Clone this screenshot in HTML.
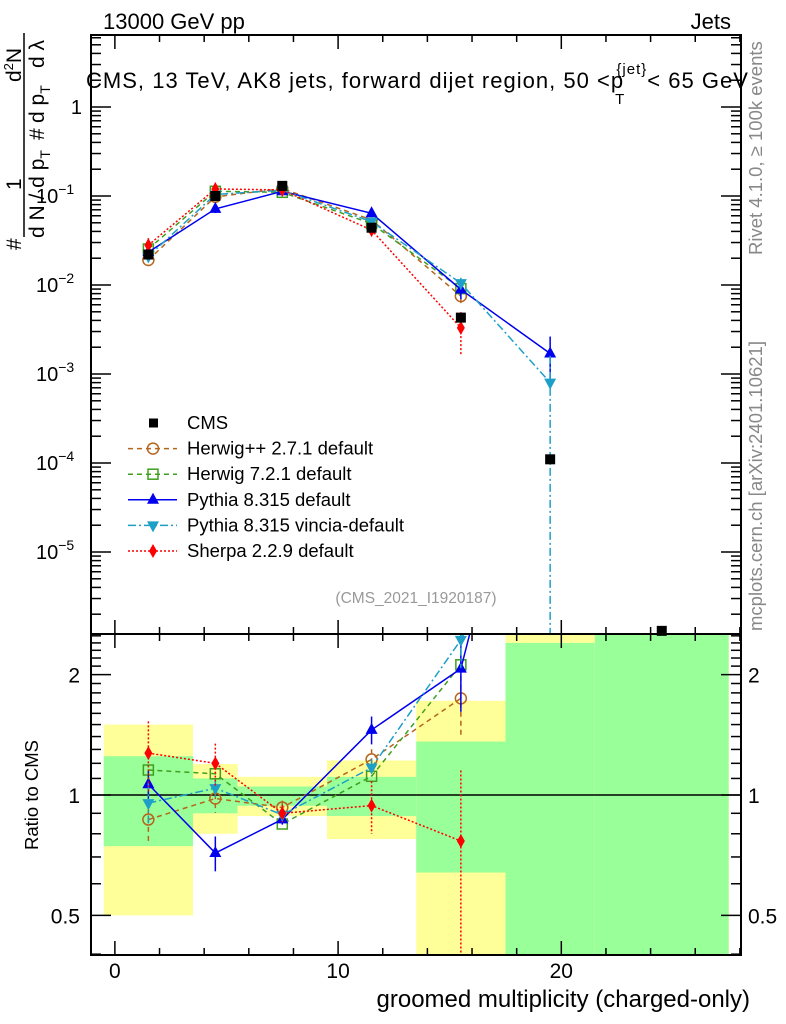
<!DOCTYPE html>
<html><head><meta charset="utf-8"><style>
html,body{margin:0;padding:0;background:#fff;overflow:hidden;}
svg{display:block;font-family:"Liberation Sans",sans-serif;}
</style></head><body>
<svg id="chart" width="786" height="1024" viewBox="0 0 786 1024" xmlns="http://www.w3.org/2000/svg">
<g id="bands"></g>
<g id="axes"></g>
<g id="series"></g>
<rect x="91" y="35" width="650" height="599" fill="none" stroke="#000" stroke-width="2"/>
<rect x="91" y="634" width="650" height="321" fill="none" stroke="#000" stroke-width="2"/>
<text x="103" y="29" font-size="22">13000 GeV pp</text>
<text x="731" y="29" font-size="22" text-anchor="end">Jets</text>
<text x="86" y="88" font-size="22" textLength="662">CMS, 13 TeV, AK8 jets, forward dijet region, 50 &lt;p<tspan font-size="15" dx="-9" dy="16">T</tspan><tspan font-size="15" dx="-9" dy="-30">{jet}</tspan><tspan dy="14">&lt; 65 GeV</tspan></text>
<text transform="translate(762,255) rotate(-90)" font-size="18.5" fill="#888">Rivet 4.1.0, ≥ 100k events</text>
<text transform="translate(762,631) rotate(-90)" font-size="18.5" fill="#888">mcplots.cern.ch [arXiv:2401.10621]</text>
<text x="416" y="603" font-size="15.5" fill="#999" text-anchor="middle">(CMS_2021_I1920187)</text>
<g font-size="21">
<text transform="translate(21,250) rotate(-90)">#</text>
<text transform="translate(21,190) rotate(-90)">1</text>
<text transform="translate(21,82) rotate(-90)">d<tspan font-size="13" dy="-8">2</tspan><tspan dy="8">N</tspan></text>
<line x1="24" y1="237" x2="24" y2="33" stroke="#000" stroke-width="1.5"/>
<text transform="translate(44,238) rotate(-90)">d N / d p<tspan font-size="14" dy="6">T</tspan></text>
<text transform="translate(44,140) rotate(-90)">#</text>
<text transform="translate(44,123) rotate(-90)">d p<tspan font-size="14" dy="6">T</tspan></text>
<text transform="translate(44,68) rotate(-90)">d λ</text>
</g>
<text transform="translate(38,795) rotate(-90)" font-size="18.5" text-anchor="middle">Ratio to CMS</text>
<text x="750" y="1007" font-size="24" text-anchor="end">groomed multiplicity (charged-only)</text>
<g id="legend"></g>
</svg>
<script>
const binCenters = [1.5, 4.5, 7.5, 11.5, 15.5, 19.5, 24.5];
const binEdges = [-0.5, 3.5, 5.5, 9.5, 13.5, 17.5, 21.5, 27.5];
const cmsValues = [0.022, 0.1, 0.13, 0.044, 0.0043, 0.00011, 0.0000013];
const totUp = [1.5, 1.195, 1.11, 1.22, 1.72, 50, 3];
const totDown = [0.5, 0.8, 0.886, 0.776, 0.1, 0.01, 0.01];
const statUp = [1.25, 1.10, 1.05, 1.11, 1.36, 2.4, 3];
const statDown = [0.745, 0.90, 0.94, 0.886, 0.64, 0.01, 0.01];
const herwigppValues = [0.0191, 0.098, 0.121, 0.054, 0.0075];
const herwig7Values = [0.0254, 0.113, 0.110, 0.049, 0.0091];
const pythiaValues = [0.0234, 0.0716, 0.113, 0.064, 0.0089, 0.0017];
const vinciaValues = [0.021, 0.104, 0.116, 0.0515, 0.0105, 0.0008];
const sherpaValues = [0.028, 0.12, 0.117, 0.0414, 0.0033];
const pythiaRelErr = [0.08, 0.1, 0.03, 0.08, 0.22, 0.55];
const sherpaRelErr = [0.2, 0.12, 0.05, 0.15, 0.5];
const herwigppRelErr = [0.12, 0.08, 0.04, 0.06, 0.2];
const vinciaRelErr = [0.12, 0.05, 0.04, 0.05, 0.15, 1];
const xTicks = [0, 10, 20];
const mainYTicks = [0, -1, -2, -3, -4, -5];
const ratioTicks = [0.5, 1, 2];

const NS = 'http://www.w3.org/2000/svg';
const X0 = 91, X1 = 741, MT = 35, MB = 634, RB = 955;
const xMin = -1.07, xMax = 28.05;
function xs(v){ return X0 + (v - xMin) / (xMax - xMin) * (X1 - X0); }
function ys(v){ return 107 - 89 * Math.log10(v); }
function yr(v){ return 795 - 400 * Math.log10(v); }
function clampMain(y){ return Math.max(MT, Math.min(MB, y)); }
function clampR(y){ return Math.max(MB, Math.min(RB, y)); }
function mk(tag, attrs, parent){ const e = document.createElementNS(NS, tag); for (const k in attrs) e.setAttribute(k, attrs[k]); parent.appendChild(e); return e; }

const bands = document.getElementById('bands');
const axes = document.getElementById('axes');
const series = document.getElementById('series');

for (let i = 0; i < binEdges.length - 1; i++) {
  const xa = xs(binEdges[i]), xb = xs(binEdges[i+1]);
  const ty1 = clampR(yr(totUp[i])), ty2 = clampR(yr(totDown[i]));
  const y = mk('rect', {x: xa, y: ty1, width: xb - xa, height: ty2 - ty1, fill: '#ffff99'}, bands);
  
  
  const sy1 = clampR(yr(statUp[i])), sy2 = clampR(yr(statDown[i]));
  const g = mk('rect', {x: xa, y: sy1, width: xb - xa, height: sy2 - sy1, fill: '#99ff99'}, bands);
  
  
}
const one = mk('line', {x1: X0, x2: X1, y1: yr(1), y2: yr(1), stroke: '#000', 'stroke-width': 1.5}, axes);



for (let v = -1; v <= 28; v++) {
  const major = v % 10 === 0, mid = v % 2 === 0;
  if (!mid && !major) continue;
  const L = major ? 14 : 7, x = xs(v);
  mk('line', {x1: x, x2: x, y1: MT, y2: MT + L, stroke: '#000', 'stroke-width': 1.5}, axes);
  mk('line', {x1: x, x2: x, y1: MB, y2: MB - L, stroke: '#000', 'stroke-width': 1.5}, axes);
  mk('line', {x1: x, x2: x, y1: MB, y2: MB + L, stroke: '#000', 'stroke-width': 1.5}, axes);
  mk('line', {x1: x, x2: x, y1: RB, y2: RB - L, stroke: '#000', 'stroke-width': 1.5}, axes);
}
xTicks.forEach(v => {
  const t = mk('text', {x: xs(v), y: 978, 'font-size': 21, 'text-anchor': 'middle'}, axes);
  t.textContent = String(v);
  
  
});
for (let d = -6; d <= 0; d++) {
  for (let m = 1; m <= 9; m++) {
    const v = m * Math.pow(10, d), y = ys(v);
    if (y < MT || y > MB) continue;
    const L = m === 1 ? 20 : 10;
    mk('line', {x1: X0, x2: X0 + L, y1: y, y2: y, stroke: '#000', 'stroke-width': 1.5}, axes);
    mk('line', {x1: X1, x2: X1 - L, y1: y, y2: y, stroke: '#000', 'stroke-width': 1.5}, axes);
  }
}
mainYTicks.forEach(d => {
  const y = ys(Math.pow(10, d));
  const t = mk('text', {x: 82, y: y + 7, 'font-size': 20, 'text-anchor': 'end'}, axes);
  if (d === 0) t.textContent = '1';
  else { t.textContent = '10'; const s = mk('tspan', {'font-size': 14, dy: -9}, t); s.textContent = '\u2212' + (-d); t.setAttribute('x', 36); t.setAttribute('text-anchor', 'start'); }
  
  
});
[0.4,0.5,0.6,0.7,0.8,0.9,1,1.1,1.2,1.3,1.4,1.5,1.6,1.7,1.8,1.9,2,2.1,2.2,2.3,2.4,2.5].forEach(v => {
  const y = yr(v); if (y < MB || y > RB) return;
  const L = (v === 0.5 || v === 1 || v === 2) ? 20 : 10;
  mk('line', {x1: X0, x2: X0 + L, y1: y, y2: y, stroke: '#000', 'stroke-width': 1.5}, axes);
  mk('line', {x1: X1, x2: X1 - L, y1: y, y2: y, stroke: '#000', 'stroke-width': 1.5}, axes);
});
ratioTicks.forEach(v => {
  const y = yr(v);
  const a = mk('text', {x: 80, y: y + 8, 'font-size': 21, 'text-anchor': 'end'}, axes);
  a.textContent = String(v);
  
  
  const b = mk('text', {x: 748, y: y + 8, 'font-size': 21}, axes);
  b.textContent = String(v);
  
  
});

function marker(type, color, x, y, parent){
  let e;
  if (type === 'square') e = mk('rect', {x: x-5, y: y-5, width: 10, height: 10, fill: color}, parent);
  else if (type === 'circle') e = mk('circle', {cx: x, cy: y, r: 5.5, fill: 'none', stroke: color, 'stroke-width': 1.5}, parent);
  else if (type === 'osquare') e = mk('rect', {x: x-5, y: y-5, width: 10, height: 10, fill: 'none', stroke: color, 'stroke-width': 1.5}, parent);
  else if (type === 'tri') e = mk('polygon', {points: `${x},${y-7} ${x-6},${y+4} ${x+6},${y+4}`, fill: color}, parent);
  else if (type === 'itri') e = mk('polygon', {points: `${x},${y+7} ${x-6},${y-4} ${x+6},${y-4}`, fill: color}, parent);
  else e = mk('polygon', {points: `${x},${y-7} ${x-4},${y} ${x},${y+7} ${x+4},${y}`, fill: color}, parent);
  return e;
}

const models = [
  {name: 'Herwig++ 2.7.1 default', vals: herwigppValues, err: herwigppRelErr, color: '#b5651d', dash: '5,4', m: 'circle', key: 'herwigpp'},
  {name: 'Herwig 7.2.1 default', vals: herwig7Values, err: null, color: '#3f9f1f', dash: '5,4', m: 'osquare', key: 'herwig7'},
  {name: 'Pythia 8.315 default', vals: pythiaValues, err: pythiaRelErr, color: '#0000ee', dash: '', m: 'tri', key: 'pythia'},
  {name: 'Pythia 8.315 vincia-default', vals: vinciaValues, err: vinciaRelErr, color: '#1e9fc8', dash: '8,3,2,3', m: 'itri', key: 'vincia'},
  {name: 'Sherpa 2.2.9 default', vals: sherpaValues, err: sherpaRelErr, color: '#ff0000', dash: '2,2', m: 'diamond', key: 'sherpa'}
];

const defs = mk('defs', {}, document.getElementById('chart'));
const c1 = mk('clipPath', {id: 'clipMain'}, defs); mk('rect', {x: X0, y: MT, width: X1 - X0, height: MB - MT}, c1);
const c2 = mk('clipPath', {id: 'clipRatio'}, defs); mk('rect', {x: X0, y: MB, width: X1 - X0, height: RB - MB}, c2);
const gMain = mk('g', {'clip-path': 'url(#clipMain)'}, series);
const gRatio = mk('g', {'clip-path': 'url(#clipRatio)'}, series);

models.forEach(md => {
  const pts = md.vals.map((v, i) => [xs(binCenters[i]), ys(v)]);
  const line = mk('polyline', {points: pts.map(p => p.join(',')).join(' '), fill: 'none', stroke: md.color, 'stroke-width': 1.5, 'stroke-dasharray': md.dash}, gMain);
  
  
  const rpts = md.vals.map((v, i) => [xs(binCenters[i]), yr(v / cmsValues[i])]);
  const rl = mk('polyline', {points: rpts.map(p => p.join(',')).join(' '), fill: 'none', stroke: md.color, 'stroke-width': 1.5, 'stroke-dasharray': md.dash}, gRatio);
  
  
  md.vals.forEach((v, i) => {
    const x = xs(binCenters[i]);
    if (md.err) {
      const e = md.err[i];
      mk('line', {x1: x, x2: x, y1: ys(v * (1 + e)), y2: clampMain(ys(v * Math.max(0.0001, 1 - e))), stroke: md.color, 'stroke-width': 1.5, 'stroke-dasharray': md.dash}, gMain);
      const r = v / cmsValues[i];
      if (r < 3) mk('line', {x1: x, x2: x, y1: yr(r * (1 + e)), y2: yr(r * Math.max(0.0001, 1 - e)), stroke: md.color, 'stroke-width': 1.5, 'stroke-dasharray': md.dash}, gRatio);
    }
    const p = marker(md.m, md.color, x, ys(v), gMain);
    
    
    const q = marker(md.m, md.color, x, yr(v / cmsValues[i]), gRatio);
    
    
  });
});
cmsValues.forEach((v, i) => {
  const p = marker('square', '#000', xs(binCenters[i]), Math.min(ys(v), MB - 2), series);
  
  
});

const leg = document.getElementById('legend');
const lrows = [{name: 'CMS', m: 'square', color: '#000', dash: null, key: 'cms'}].concat(models);
lrows.forEach((r, i) => {
  const y = 423 + i * 25.6;
  const g = mk('g', {}, leg);
  
  
  if (r.dash !== null) mk('line', {x1: 128, x2: 177, y1: y, y2: y, stroke: r.color, 'stroke-width': 1.5, 'stroke-dasharray': r.dash}, g);
  if (r.m === 'square') mk('rect', {x: 149, y: y - 4.5, width: 9, height: 9, fill: '#000'}, g);
  else marker(r.m, r.color, 153, y, g);
  const t = mk('text', {x: 187, y: y + 6, 'font-size': 18.5}, g);
  t.textContent = r.name;
});
</script>
</body></html>
